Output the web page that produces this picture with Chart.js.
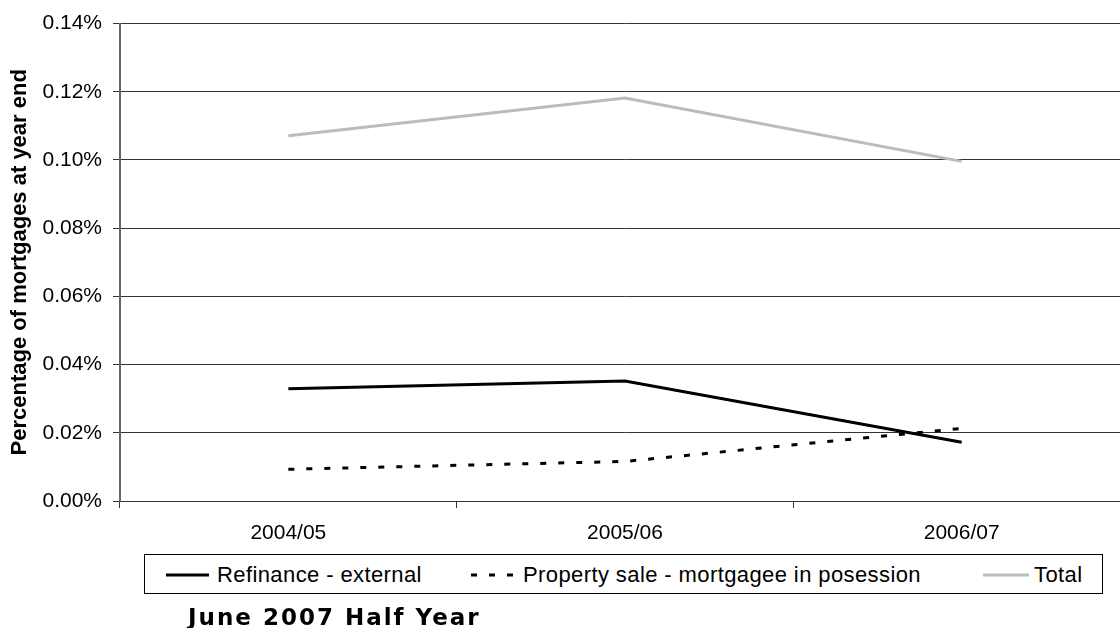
<!DOCTYPE html>
<html>
<head>
<meta charset="utf-8">
<script src="https://cdn.jsdelivr.net/npm/chart.js@4/dist/chart.umd.min.js"></script>
<style>
  body { margin: 0; background: #fff; }
  #wrap { position: relative; width: 1120px; height: 628px; overflow: hidden; }
  #legend {
    position: absolute; left: 144px; top: 554px; width: 959px; height: 40px;
    border: 1px solid #000; box-sizing: border-box; background: #fff;
    font-family: "Liberation Sans", Arial, sans-serif; font-size: 22px; letter-spacing: 0.4px; color: #000;
  }
  #legend span { position: absolute; top: 7px; white-space: nowrap; }
  #legend svg { position: absolute; top: 0; left: 0; }
  #title {
    position: absolute; left: 188px; top: 604px; white-space: nowrap;
    font-family: "DejaVu Sans", Verdana, sans-serif; font-weight: bold; font-size: 23px; letter-spacing: 2px;
  }
</style>
</head>
<body>
<div id="wrap">
  <canvas id="myChart" width="1130" height="628"></canvas>
  <div id="legend">
    <svg width="959" height="40">
      <line x1="21" y1="20" x2="64" y2="20" stroke="#000" stroke-width="3"/>
      <line x1="326" y1="20" x2="370" y2="20" stroke="#000" stroke-width="3" stroke-dasharray="6,12"/>
      <line x1="838" y1="20" x2="884" y2="20" stroke="#bbbbbb" stroke-width="3"/>
    </svg>
    <span style="left:72px">Refinance - external</span>
    <span style="left:378px">Property sale - mortgagee in posession</span>
    <span style="left:889px">Total</span>
  </div>
  <div id="title">June 2007 Half Year</div>
</div>
<script>
const years = ['2004/05', '2005/06', '2006/07'];
// values are in percent (0.0329 means 0.0329%)
const refinance = [0.0329, 0.0352, 0.0172];
const propertySale = [0.0093, 0.0116, 0.0213];
const total = [0.1071, 0.1182, 0.0996];
const yTicks = [0, 0.02, 0.04, 0.06, 0.08, 0.10, 0.12, 0.14];

const data = {
    labels: years,
    datasets: [{
        label: 'Total',
        data: total,
        borderColor: '#bbbbbb',
        borderWidth: 3,
    }, {
        label: 'Property sale - mortgagee in posession',
        data: propertySale,
        borderColor: '#000',
        borderWidth: 3,
        borderDash: [6, 12],
    }, {
        label: 'Refinance - external',
        data: refinance,
        borderColor: '#000',
        borderWidth: 3,
    }],
};

const config = {
    type: 'line',
    data: data,
    options: {
        responsive: false,
        animation: false,
        layout: { padding: { top: 18, right: 0, bottom: 0, left: 0 } },
        elements: { point: { radius: 0 }, line: { tension: 0 } },
        plugins: {
            legend: { display: false },
            tooltip: { enabled: false },
        },
        scales: {
            x: {
                offset: true,
                grid: { offset: true, drawOnChartArea: false, drawTicks: true, tickLength: 7, color: '#333' },
                border: { display: true, color: '#333', width: 1 },
                ticks: { color: '#000', padding: 13, font: { family: 'Liberation Sans', size: 21 } },
                afterFit: function (scale) { scale.height = 127; },
            },
            y: {
                min: 0,
                max: 0.14,
                afterBuildTicks: function (scale) { scale.ticks = yTicks.map(v => ({ value: v })); },
                grid: { color: '#333', lineWidth: 1, drawTicks: true, tickLength: 7 },
                border: { display: true, color: '#666', width: 2 },
                ticks: {
                    color: '#000', padding: 11,
                    font: { family: 'Liberation Sans', size: 21 },
                    callback: function (v) { return v.toFixed(2) + '%'; },
                },
                title: {
                    display: true,
                    text: 'Percentage of mortgages at year end',
                    color: '#000',
                    font: { family: 'Liberation Sans', size: 22, weight: 'bold' },
                    padding: { top: 7, bottom: 0 },
                },
                afterFit: function (scale) { scale.width = 120; },
            },
        },
    },
};

const ctx = document.getElementById('myChart').getContext('2d');
const myChart = new Chart(ctx, config);
</script>
</body>
</html>
